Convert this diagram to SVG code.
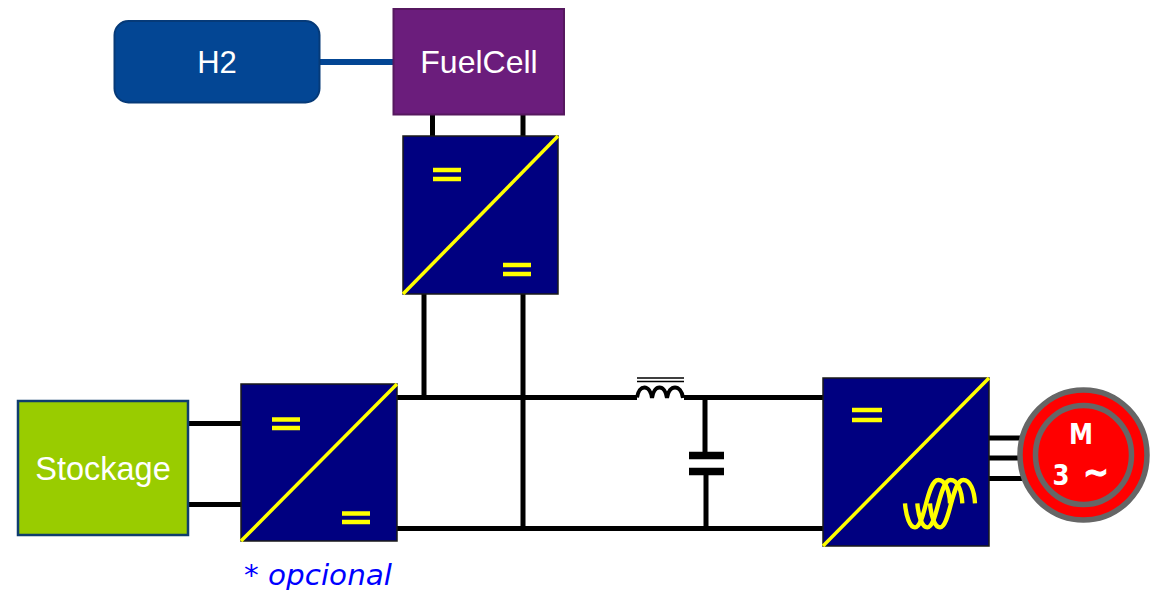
<svg xmlns="http://www.w3.org/2000/svg" width="1150" height="590" viewBox="0 0 1150 590">
<style>
.w{fill:none;stroke:#000;stroke-width:5}
.conv{fill:#000080;stroke:#1a1a1a;stroke-width:1.500}
.diag{stroke:#ffff00;stroke-width:3.500;fill:none}
.eq{stroke:#ffff00;stroke-width:4.500;fill:none}
.lbl{font-family:"Liberation Sans",Arial,sans-serif;font-size:32px;fill:#fff;text-anchor:middle}
.mt{font-family:"DejaVu Sans",Verdana,sans-serif;font-size:28px;font-weight:bold;fill:#fff}
</style>
<defs><path id="s" d="M0 100C3 140 15 172 30 172C60 172 65 30 100 30C120 30 133 60 135 100" fill="none" stroke="#ffff00" stroke-width="13"/></defs>
<rect width="1150" height="590" fill="#fff"/>
<g id="connectors">
<path d="M320 62H394" fill="none" stroke="#034694" stroke-width="6"/>
<path class="w" d="M432.500 115V136M523 115V136M424 294V397M523 294V529"/>
<path class="w" d="M188 423.500H241M188 504.500H241"/>
<path class="w" d="M397 397.500H637M684 397.500H823M397 528.500H823"/>
<path class="w" d="M705 398V455M706 472V526"/>
<path d="M689 455.500H724M689 471.500H724" fill="none" stroke="#000" stroke-width="7.500"/>
<path d="M637 378H684M637 381.500H684" fill="none" stroke="#000" stroke-width="1.500"/>
<path d="M637 397.500C639 384 650 384 652 398C654 384 665 384 667 398C669 384 681 384 683 398" fill="none" stroke="#000" stroke-width="4"/>
<path d="M989 438H1022M989 458H1022M989 478.500H1022" fill="none" stroke="#000" stroke-width="5"/>
</g>
<g id="h2"><rect x="114.500" y="21" width="205" height="81.500" rx="14" fill="#034694" stroke="#063a78" stroke-width="2"/><text class="lbl" x="217" y="73" style="font-size:31px">H2</text></g>
<g id="fuelcell"><rect x="393.500" y="9" width="170.500" height="105.500" fill="#6b1d7c" stroke="#56185f" stroke-width="2"/><text class="lbl" x="479" y="73">FuelCell</text></g>
<g id="stockage"><rect x="18" y="401" width="170" height="134" fill="#99cc00" stroke="#0f3d6e" stroke-width="2.500"/><text class="lbl" x="103" y="480" style="font-size:32.500px">Stockage</text></g>
<g id="conv-top"><rect class="conv" x="403" y="136" width="155" height="158"/><path class="diag" d="M403 294L558 136"/><path class="eq" d="M433 170H461M433 179H461M503 265H531M503 274H531"/></g>
<g id="conv-left"><rect class="conv" x="241" y="384" width="156" height="157"/><path class="diag" d="M241 541L397 384"/><path class="eq" d="M272 419.500H300M272 428H300M342 513.500H370M342 522H370"/></g>
<g id="conv-right"><rect class="conv" x="823" y="378" width="166" height="168"/><path class="diag" d="M823 546L989 378"/><path class="eq" d="M852 410H882M852 420H882"/>
<g transform="translate(895 470) scale(.3333)"><use href="#s" x="30"/><use href="#s" x="67"/><use href="#s" x="105"/></g></g>
<g id="motor"><ellipse cx="1083.500" cy="455" rx="63.500" ry="65" fill="#ff0000" stroke="#666" stroke-width="5.500"/><ellipse cx="1083.500" cy="455" rx="48" ry="49.500" fill="#ff0000" stroke="#666" stroke-width="5.500"/>
<text class="mt" x="1069" y="444" textLength="24" lengthAdjust="spacingAndGlyphs">M</text><text class="mt" x="1052.500" y="485" textLength="17" lengthAdjust="spacingAndGlyphs">3</text><text class="mt" x="1083" y="484" style="font-size:34px;stroke:#fff;stroke-width:1" textLength="26" lengthAdjust="spacingAndGlyphs">~</text></g>
<text x="244" y="585" font-family="'DejaVu Sans',Verdana,sans-serif" font-size="28" font-style="italic" fill="#0000ff" textLength="148" lengthAdjust="spacingAndGlyphs">* opcional</text>
</svg>
